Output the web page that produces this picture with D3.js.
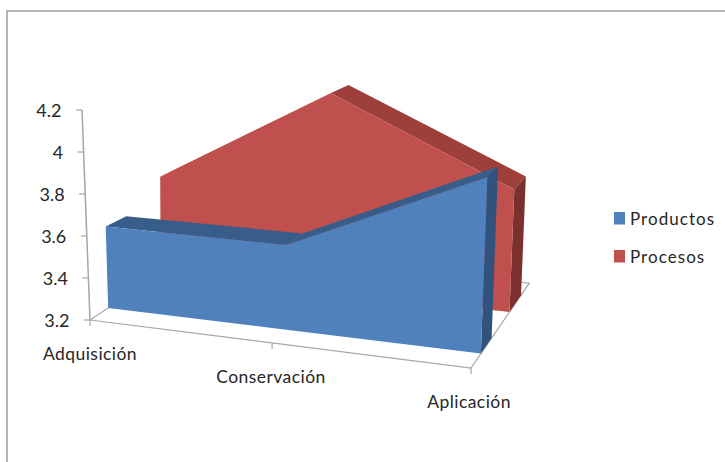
<!DOCTYPE html>
<html>
<head>
<meta charset="utf-8">
<script src="https://cdn.jsdelivr.net/npm/d3@7"></script>
<style>
  html, body { margin: 0; padding: 0; background: #fff; }
  svg { display: block; }
  text { font-family: Lato, "Open Sans", sans-serif; fill: #262626; }
</style>
</head>
<body>
<div id="chart"></div>
<script>
const categories = ["Adquisición", "Conservación", "Aplicación"];
const productos = [3.6, 3.6, 4.0];
const procesos = [3.72, 4.22, 3.8];
const valueTicks = [3.2, 3.4, 3.6, 3.8, 4, 4.2];
const seriesNames = ["Productos", "Procesos"];
const frontColors = ["#4f81bd", "#c0504d"];
const topColors = ["#385d8a", "#9e3f3c"];
const sideColors = ["#30527c", "#7c302e"];
// Slab depth of each series, as a fraction of the floor's depth
const slabDepths = [[0.18, 0.375], [0.70, 0.91]];

const width = 725, height = 462;
const svg = d3.select("#chart").append("svg").attr("width", width).attr("height", height);

// Corners of the 3D box on the page: floor plane and the plane at the top of the value axis
const floor = { fl: [90, 320], fr: [471, 368], bl: [191, 253], br: [526, 288] };
const ceil = { fl: [82, 110], fr: [479, 142], bl: [193, 78], br: [534, 93] };

const catPos = d3.scaleLinear().domain([0, 1, 2]).range([0, 0.478, 1]);
const valuePos = d3.scaleLinear().domain([3.2, 4.2]).range([0, 1]);

function onPlane(p, u, d) {
  const near = [d3.interpolateNumber(p.fl[0], p.fr[0])(u), d3.interpolateNumber(p.fl[1], p.fr[1])(u)];
  const far = [d3.interpolateNumber(p.bl[0], p.br[0])(u), d3.interpolateNumber(p.bl[1], p.br[1])(u)];
  return [d3.interpolateNumber(near[0], far[0])(d), d3.interpolateNumber(near[1], far[1])(d)];
}

// Category index, depth fraction and value to a page position
function project(cat, depth, value) {
  const u = catPos(cat), t = valuePos(value);
  const a = onPlane(floor, u, depth), b = onPlane(ceil, u, depth);
  return [a[0] + (b[0] - a[0]) * t, a[1] + (b[1] - a[1]) * t];
}

const line = d3.line();
const closed = pts => line(pts) + "Z";
const gridGrey = "#a6a6a6";

// Chart frame
svg.append("path")
  .attr("d", line([[7, height], [7, 11], [width, 11]]))
  .attr("fill", "none").attr("stroke", "#a3a3a3").attr("stroke-width", 1.6);

// Floor
const floorDepth = 1.06;
svg.append("path")
  .attr("d", closed([project(0, 0, 3.2), project(2, 0, 3.2), project(2, floorDepth, 3.2), project(0, floorDepth, 3.2)]))
  .attr("fill", "#fff").attr("stroke", gridGrey).attr("stroke-width", 1.2);

// Value axis with ticks and labels
svg.append("path").attr("d", line([project(0, 0, 3.2), project(0, 0, 4.2)]))
  .attr("fill", "none").attr("stroke", gridGrey).attr("stroke-width", 1.5);
const yTicks = svg.append("g").selectAll("g").data(valueTicks).join("g");
yTicks.append("path")
  .attr("d", v => { const p = project(0, 0, v); return line([[p[0] - 6, p[1]], p]); })
  .attr("stroke", gridGrey).attr("stroke-width", 1.2);
yTicks.append("text")
  .attr("x", v => project(0, 0, v)[0] - 20.5)
  .attr("y", v => project(0, 0, v)[1] + 7)
  .attr("text-anchor", "end").attr("font-size", 18)
  .text(v => String(v));

// Category ticks and labels
const labelSpots = [[90, 360], [271, 383], [469, 408]];
const catGroup = svg.append("g").selectAll("g").data(categories).join("g");
catGroup.append("path")
  .attr("d", (c, i) => { const p = project(i, 0, 3.2); return line([p, [p[0], p[1] + 6]]); })
  .attr("stroke", gridGrey).attr("stroke-width", 1.2);
catGroup.append("text")
  .attr("x", (c, i) => labelSpots[i][0]).attr("y", (c, i) => labelSpots[i][1])
  .attr("text-anchor", "middle").attr("font-size", 17.5).attr("letter-spacing", 0.45)
  .text(c => c);

// One slab per series: top strips, front face, closing side; back series first
[procesos, productos].forEach(values => {
  const s = values === productos ? 0 : 1;
  const [d0, d1] = slabDepths[s];
  const g = svg.append("g");
  d3.pairs(values.map((v, i) => [i, v])).forEach(([a, b]) => {
    g.append("path")
      .attr("d", closed([project(a[0], d0, a[1]), project(b[0], d0, b[1]), project(b[0], d1, b[1]), project(a[0], d1, a[1])]))
      .attr("fill", topColors[s]);
  });
  const last = values.length - 1;
  g.append("path")
    .attr("d", closed([project(last, d0, 3.2), project(last, d1, 3.2), project(last, d1, values[last]), project(last, d0, values[last])]))
    .attr("fill", sideColors[s]);
  const front = values.map((v, i) => project(i, d0, v));
  const base = values.map((v, i) => project(i, d0, 3.2)).reverse();
  g.append("path").attr("d", closed(front.concat(base))).attr("fill", frontColors[s]);
});

// Legend
const legend = svg.append("g").selectAll("g").data(seriesNames).join("g")
  .attr("transform", (n, i) => `translate(614,${212 + i * 38})`);
legend.append("rect").attr("width", 11).attr("height", 12.5).attr("fill", (n, i) => frontColors[i]);
legend.append("text").attr("x", 16).attr("y", 13).attr("font-size", 17).attr("letter-spacing", 1.05).text(n => n);
</script>
</body>
</html>
